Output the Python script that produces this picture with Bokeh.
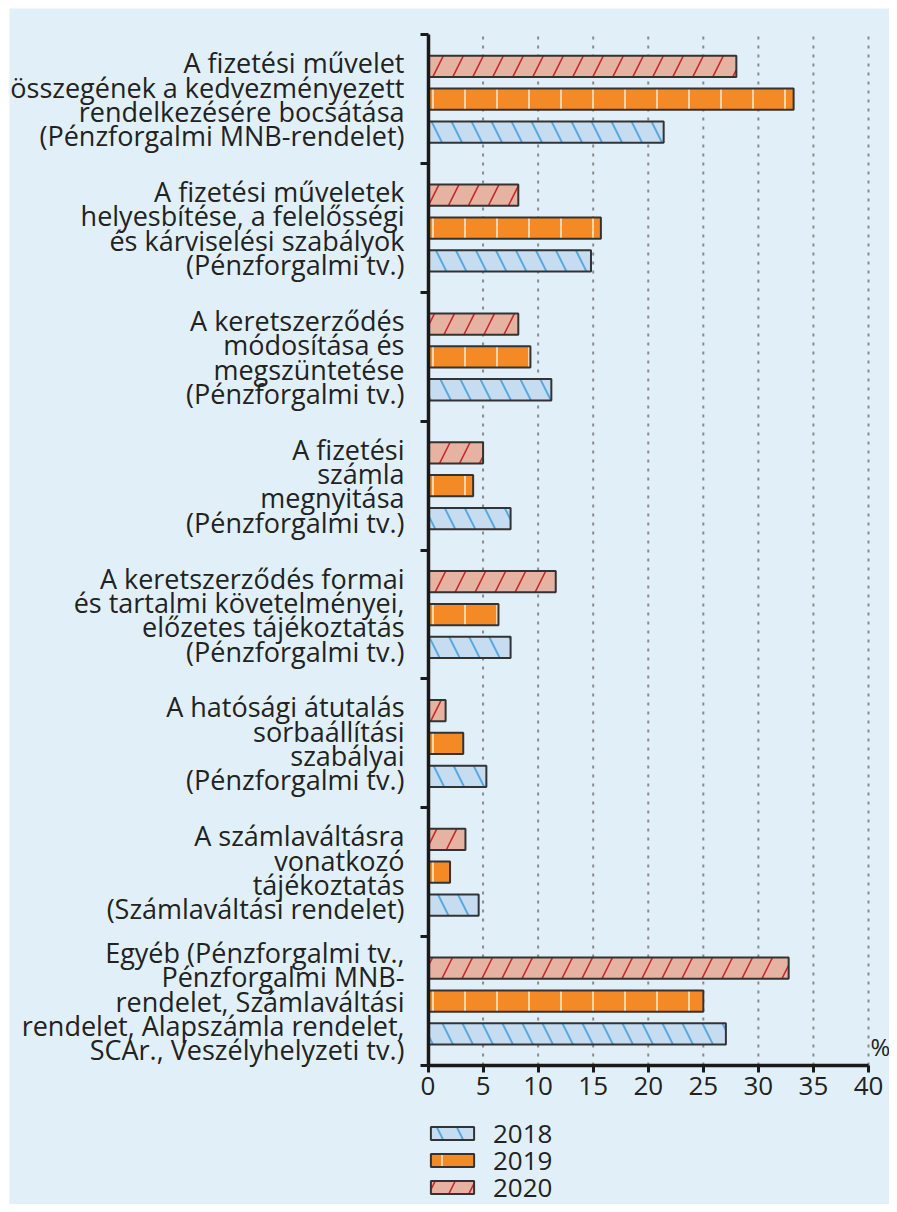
from bokeh.plotting import figure
from bokeh.models import (Range1d, FixedTicker, ColumnDataSource, LabelSet, Label,
                          Legend, LegendItem)
from bokeh.core.properties import value
from bokeh.embed import file_html
from bokeh.resources import INLINE

# ---------------- data ----------------
categories = [
    ["A fizetési művelet", "összegének a kedvezményezett", "rendelkezésére bocsátása", "(Pénzforgalmi MNB-rendelet)"],
    ["A fizetési műveletek", "helyesbítése, a felelősségi", "és kárviselési szabályok", "(Pénzforgalmi tv.)"],
    ["A keretszerződés", "módosítása és", "megszüntetése", "(Pénzforgalmi tv.)"],
    ["A fizetési", "számla", "megnyitása", "(Pénzforgalmi tv.)"],
    ["A keretszerződés formai", "és tartalmi követelményei,", "előzetes tájékoztatás", "(Pénzforgalmi tv.)"],
    ["A hatósági átutalás", "sorbaállítási", "szabályai", "(Pénzforgalmi tv.)"],
    ["A számlaváltásra", "vonatkozó", "tájékoztatás", "(Számlaváltási rendelet)"],
    ["Egyéb (Pénzforgalmi tv.,", "Pénzforgalmi MNB-", "rendelet, Számlaváltási", "rendelet, Alapszámla rendelet,", "SCAr., Veszélyhelyzeti tv.)"],
]
years = ["2018", "2019", "2020"]
v2018 = [21.4, 14.8, 11.2, 7.5, 7.5, 5.3, 4.6, 27.05]
v2019 = [33.2, 15.7, 9.3, 4.1, 6.4, 3.2, 2.0, 25.0]
v2020 = [28.0, 8.2, 8.2, 5.0, 11.6, 1.6, 3.4, 32.75]
x_ticks = [0, 5, 10, 15, 20, 25, 30, 35, 40]
unit_label = "%"

# ---------------- layout / styling ----------------
BG = "#E1F0F8"
TXT = "#222222"
FONT = "Open Sans"
W, H = 889, 1204
FL, FT = 9, 8                      # frame left / top (canvas px)
X0_PX, X40_PX = 427.5, 868.0       # canvas px of x=0 and x=40
Y8_PX, Y0_PX = 34.3, 1065.0        # canvas px of top and bottom of the bar area

n = len(categories)
xs = (X40_PX - X0_PX) / 40.0
ys = (Y0_PX - Y8_PX) / n
x_range = Range1d(-(X0_PX - FL) / xs, 40 + (W - X40_PX) / xs)
y_range = Range1d(-(H - Y0_PX) / ys, n + (Y8_PX - FT) / ys)

p = figure(width=W, height=H, output_backend="svg", toolbar_location=None,
           x_range=x_range, y_range=y_range,
           min_border_left=FL, min_border_right=0, min_border_top=FT,
           min_border_bottom=0)
p.background_fill_color = BG
p.border_fill_color = "white"
p.outline_line_color = None
p.xgrid.visible = False
p.ygrid.visible = False

centres = [n - i - 0.5 for i in range(n)]

# dotted vertical grid lines over the bar area
p.segment(x0=x_ticks[1:], y0=0, x1=x_ticks[1:], y1=n,
          line_color="#8a8a8a", line_width=2, line_dash="3 6")

# x axis (fixed at y=0)
xa = p.xaxis[0]
xa.fixed_location = 0
xa.bounds = (0, 40)
xa.ticker = FixedTicker(ticks=x_ticks)
xa.axis_line_width = 3.5
xa.axis_line_color = "#1a1a1a"
xa.major_tick_line_width = 3
xa.major_tick_line_color = "#1a1a1a"
xa.major_tick_out = 7
xa.major_tick_in = 0
xa.minor_tick_line_color = None
xa.major_label_text_font = FONT
xa.major_label_text_font_size = "26px"
xa.major_label_text_color = TXT
xa.major_label_standoff = 4

# y axis (fixed at x=0, group separators)
ya = p.yaxis[0]
ya.fixed_location = 0
ya.bounds = (0, n)
ya.ticker = FixedTicker(ticks=list(range(n + 1)))
ya.major_label_overrides = {i: "" for i in range(n + 1)}
ya.axis_line_width = 3.5
ya.axis_line_color = "#1a1a1a"
ya.major_tick_line_width = 3
ya.major_tick_line_color = "#1a1a1a"
ya.major_tick_out = 8
ya.major_tick_in = 0
ya.minor_tick_line_color = None

# bars
BAR_H = 0.165
OFF = 0.255
styles = {
    "2018": dict(fill_color="#C6DDF1", hatch_pattern="\\", hatch_color="#5AA8DC",
                 hatch_scale=40, hatch_weight=2, off=-OFF, vals=v2018),
    "2019": dict(fill_color="#F38A25", hatch_pattern="|", hatch_color="#FCD6AA",
                 hatch_scale=32, hatch_weight=2, off=0.0, vals=v2019),
    "2020": dict(fill_color="#E6B2A1", hatch_pattern="/", hatch_color="#C4282C",
                 hatch_scale=40, hatch_weight=1.6, off=OFF, vals=v2020),
}
renderers = {}
for yr in years:
    s = styles[yr]
    src = ColumnDataSource(dict(y=[c + s["off"] for c in centres], right=s["vals"]))
    r = p.hbar(y="y", left=0, right="right", height=BAR_H, source=src,
               fill_color=s["fill_color"], line_color="#333333", line_width=2,
               hatch_pattern=s["hatch_pattern"], hatch_color=s["hatch_color"],
               hatch_scale=s["hatch_scale"], hatch_weight=s["hatch_weight"])
    renderers[yr] = r

# category labels (one text per line, right aligned left of the axis)
LINE = 24.3 / ys
lx, ly, lt = [], [], []
for i, lines in enumerate(categories):
    m = len(lines)
    for k, t in enumerate(lines):
        lx.append(0)
        ly.append(centres[i] - (k - (m - 1) / 2) * LINE)
        lt.append(t)
lab_src = ColumnDataSource(dict(x=lx, y=ly, text=lt))
p.add_layout(LabelSet(x="x", y="y", text="text", source=lab_src, x_offset=-23.5,
                      text_align="right", text_baseline="middle",
                      text_font=value(FONT), text_font_size=value("27px"),
                      text_color=TXT))

# unit label
p.add_layout(Label(x=40, y=0, text=unit_label, x_offset=2, y_offset=3,
                   text_align="left", text_baseline="bottom",
                   text_font=FONT, text_font_size="24px", text_color=TXT))

# legend: one single-item legend per row, stacked below the x axis
row_centres = [1133, 1160, 1187]
ITEM_H = 36
for yr, c in zip(years, row_centres):
    lg = Legend(items=[LegendItem(label=yr, renderers=[renderers[yr]])],
                location=(X0_PX - 2.5 - FL, H - (c + ITEM_H / 2)))
    lg.background_fill_alpha = 0
    lg.border_line_color = None
    lg.glyph_width = 54
    lg.glyph_height = 16
    lg.label_text_font = FONT
    lg.label_text_font_size = "26px"
    lg.label_text_color = TXT
    lg.label_standoff = 14
    lg.spacing = 0
    lg.padding = 0
    lg.margin = 0
    p.add_layout(lg)

open("out.html", "w").write(file_html(p, INLINE))
